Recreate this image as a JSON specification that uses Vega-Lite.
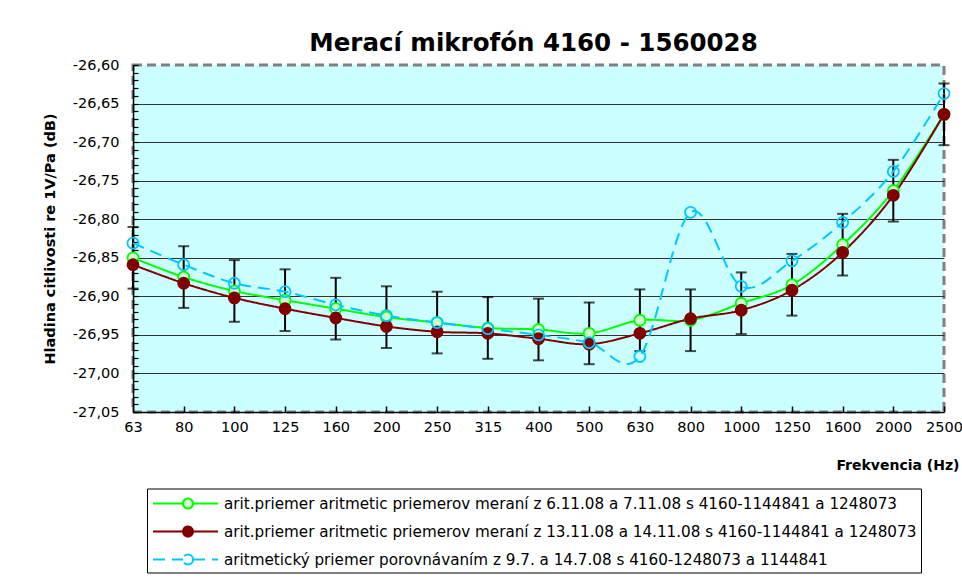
{
  "$schema": "https://vega.github.io/schema/vega-lite/v6.json",
  "width": 811,
  "height": 347,
  "autosize": {"type": "none"},
  "padding": {"left": 133, "top": 65, "right": 18, "bottom": 172},
  "background": "white",
  "config": {
    "font": "DejaVu Sans",
    "view": {"fill": "#CCFFFF", "stroke": "#808080", "strokeWidth": 3, "strokeDash": [9, 5]}
  },
  "title": {
    "text": "Merací mikrofón 4160 - 1560028",
    "fontSize": 24.5,
    "fontWeight": "bold",
    "font": "DejaVu Sans",
    "color": "black",
    "anchor": "middle",
    "frame": "group",
    "offset": -18.5,
    "baseline": "alphabetic",
    "dx": -5
  },
  "datasets": {
    "main": [
      {"f": "63", "s": "A", "v": -26.850}, {"f": "80", "s": "A", "v": -26.875}, {"f": "100", "s": "A", "v": -26.893},
      {"f": "125", "s": "A", "v": -26.905}, {"f": "160", "s": "A", "v": -26.916}, {"f": "200", "s": "A", "v": -26.927},
      {"f": "250", "s": "A", "v": -26.934}, {"f": "315", "s": "A", "v": -26.941}, {"f": "400", "s": "A", "v": -26.943},
      {"f": "500", "s": "A", "v": -26.948}, {"f": "630", "s": "A", "v": -26.931}, {"f": "800", "s": "A", "v": -26.931},
      {"f": "1000", "s": "A", "v": -26.909}, {"f": "1250", "s": "A", "v": -26.885}, {"f": "1600", "s": "A", "v": -26.833},
      {"f": "2000", "s": "A", "v": -26.763}, {"f": "2500", "s": "A", "v": -26.664},
      {"f": "63", "s": "B", "v": -26.859}, {"f": "80", "s": "B", "v": -26.883}, {"f": "100", "s": "B", "v": -26.902},
      {"f": "125", "s": "B", "v": -26.916}, {"f": "160", "s": "B", "v": -26.928}, {"f": "200", "s": "B", "v": -26.939},
      {"f": "250", "s": "B", "v": -26.946}, {"f": "315", "s": "B", "v": -26.948}, {"f": "400", "s": "B", "v": -26.955},
      {"f": "500", "s": "B", "v": -26.962}, {"f": "630", "s": "B", "v": -26.948}, {"f": "800", "s": "B", "v": -26.929},
      {"f": "1000", "s": "B", "v": -26.918}, {"f": "1250", "s": "B", "v": -26.892}, {"f": "1600", "s": "B", "v": -26.843},
      {"f": "2000", "s": "B", "v": -26.769}, {"f": "2500", "s": "B", "v": -26.664},
      {"f": "63", "s": "C", "v": -26.831}, {"f": "80", "s": "C", "v": -26.859}, {"f": "100", "s": "C", "v": -26.883},
      {"f": "125", "s": "C", "v": -26.894}, {"f": "160", "s": "C", "v": -26.911}, {"f": "200", "s": "C", "v": -26.925},
      {"f": "250", "s": "C", "v": -26.934}, {"f": "315", "s": "C", "v": -26.942}, {"f": "400", "s": "C", "v": -26.950},
      {"f": "500", "s": "C", "v": -26.960}, {"f": "630", "s": "C", "v": -26.978}, {"f": "800", "s": "C", "v": -26.791},
      {"f": "1000", "s": "C", "v": -26.887}, {"f": "1250", "s": "C", "v": -26.854}, {"f": "1600", "s": "C", "v": -26.804},
      {"f": "2000", "s": "C", "v": -26.738}, {"f": "2500", "s": "C", "v": -26.637}
    ],
    "err": [
      {"f": "63", "lo": -26.890, "hi": -26.810}, {"f": "80", "lo": -26.915, "hi": -26.835},
      {"f": "100", "lo": -26.933, "hi": -26.853}, {"f": "125", "lo": -26.945, "hi": -26.865},
      {"f": "160", "lo": -26.956, "hi": -26.876}, {"f": "200", "lo": -26.967, "hi": -26.887},
      {"f": "250", "lo": -26.974, "hi": -26.894}, {"f": "315", "lo": -26.981, "hi": -26.901},
      {"f": "400", "lo": -26.983, "hi": -26.903}, {"f": "500", "lo": -26.988, "hi": -26.908},
      {"f": "630", "lo": -26.971, "hi": -26.891}, {"f": "800", "lo": -26.971, "hi": -26.891},
      {"f": "1000", "lo": -26.949, "hi": -26.869}, {"f": "1250", "lo": -26.925, "hi": -26.845},
      {"f": "1600", "lo": -26.873, "hi": -26.793}, {"f": "2000", "lo": -26.803, "hi": -26.723},
      {"f": "2500", "lo": -26.704, "hi": -26.624}
    ]
  },
  "layer": [
    {
      "data": {"name": "err"},
      "mark": {"type": "errorbar", "color": "black", "thickness": 2, "ticks": {"size": 11, "thickness": 2}},
      "encoding": {
        "x": {"field": "f", "type": "ordinal", "title": "Frekvencia (Hz)",
              "scale": {"type": "point", "padding": 0, "domain": ["63","80","100","125","160","200","250","315","400","500","630","800","1000","1250","1600","2000","2500"]}},
        "y": {"field": "lo", "type": "quantitative", "title": "Hladina citlivosti re 1V/Pa (dB)",
              "scale": {"domain": [-27.05, -26.6], "nice": false, "zero": false}},
        "y2": {"field": "hi"}
      }
    },
    {
      "data": {"name": "main"},
      "mark": {"type": "line", "interpolate": "cardinal", "tension": 0, "strokeWidth": 2},
      "encoding": {
        "x": {"field": "f", "type": "ordinal", "title": "Frekvencia (Hz)",
              "scale": {"type": "point", "padding": 0, "domain": ["63","80","100","125","160","200","250","315","400","500","630","800","1000","1250","1600","2000","2500"]},
              "axis": {"labelFontSize": 14.5, "labelColor": "black", "labelPadding": 21, "labelAngle": 0,
                       "labelAlign": "center", "labelFlush": false, "labelBound": false,
                       "tickSize": -6, "tickColor": "black", "tickWidth": 1.5,
                       "domainColor": "black", "domainWidth": 1.5, "grid": false,
                       "titleFontSize": 14, "titleFontWeight": "bold", "titleColor": "black",
                       "titleAlign": "right", "titleBaseline": "middle", "titleX": 826, "titleY": 53}},
        "y": {"field": "v", "type": "quantitative", "title": "Hladina citlivosti re 1V/Pa (dB)",
              "scale": {"domain": [-27.05, -26.6], "nice": false, "zero": false},
              "axis": {
                "values": [-27.05,-27.04,-27.03,-27.02,-27.01,-27,-26.99,-26.98,-26.97,-26.96,-26.95,-26.94,-26.93,-26.92,-26.91,-26.9,-26.89,-26.88,-26.87,-26.86,-26.85,-26.84,-26.83,-26.82,-26.81,-26.8,-26.79,-26.78,-26.77,-26.76,-26.75,-26.74,-26.73,-26.72,-26.71,-26.7,-26.69,-26.68,-26.67,-26.66,-26.65,-26.64,-26.63,-26.62,-26.61,-26.6],
                "tickCount": 200,
                "grid": true, "gridColor": "#333333", "gridWidth": 1.2,
                "gridOpacity": {"condition": {"test": "abs(datum.value*20 - round(datum.value*20)) < 0.001 && datum.value > -27.04 && datum.value < -26.61", "value": 1}, "value": 0},
                "labelExpr": "abs(datum.value*20 - round(datum.value*20)) < 0.001 ? replace(replace(format(datum.value, '.2f'), '.', ','), '\u2212', '-') : ''",
                "labelFontSize": 14.5, "labelColor": "black", "labelPadding": 19, "labelOverlap": false, "labelFlush": false, "labelBound": false,
                "tickSize": -5, "tickColor": "black", "tickWidth": 1.2,
                "domainColor": "black", "domainWidth": 1.5,
                "titleFontSize": 14.5, "titleFontWeight": "bold", "titleColor": "black",
                "titleX": -76, "titleY": 173.5
              }},
        "stroke": {"field": "s", "type": "nominal",
                   "scale": {"domain": ["A", "B", "C"], "range": ["#00FF00", "#800000", "#00C8FF"]},
                   "legend": {"orient": "none", "legendX": 14, "legendY": 423.5, "title": null,
                              "symbolType": "M-0.9,0L2.1,0M3.1,0L5.6,0M3.1,0A0.5,0.5 0 1 1 2.1,0A0.5,0.5 0 1 1 3.1,0",
                              "symbolSize": 400, "symbolStrokeWidth": 2, "labelFontSize": 15.2, "labelLimit": 0,
                              "labelOffset": 51, "rowPadding": 8, "padding": 4, "strokeColor": "black", "fillColor": "white",
                              "labelColor": "black",
                              "labelExpr": "datum.value == 'A' ? 'arit.priemer aritmetic priemerov meraní z 6.11.08 a 7.11.08 s 4160-1144841 a 1248073' : datum.value == 'B' ? 'arit.priemer aritmetic priemerov meraní z 13.11.08 a 14.11.08 s 4160-1144841 a 1248073' : 'aritmetický priemer porovnávaním z 9.7. a 14.7.08 s 4160-1248073 a 1144841'"}},
        "strokeDash": {"field": "s", "type": "nominal",
                   "scale": {"domain": ["A", "B", "C"], "range": [[1, 0], [1, 0], [12, 7]]},
                   "legend": {"orient": "none", "legendX": 14, "legendY": 423.5, "title": null,
                              "symbolType": "M-0.9,0L2.1,0M3.1,0L5.6,0M3.1,0A0.5,0.5 0 1 1 2.1,0A0.5,0.5 0 1 1 3.1,0",
                              "symbolSize": 400, "symbolStrokeWidth": 2, "labelFontSize": 15.2, "labelLimit": 0,
                              "labelOffset": 51, "rowPadding": 8, "padding": 4, "strokeColor": "black", "fillColor": "white",
                              "labelColor": "black",
                              "labelExpr": "datum.value == 'A' ? 'arit.priemer aritmetic priemerov meraní z 6.11.08 a 7.11.08 s 4160-1144841 a 1248073' : datum.value == 'B' ? 'arit.priemer aritmetic priemerov meraní z 13.11.08 a 14.11.08 s 4160-1144841 a 1248073' : 'aritmetický priemer porovnávaním z 9.7. a 14.7.08 s 4160-1248073 a 1144841'"}}
      }
    },
    {
      "data": {"name": "main"},
      "mark": {"type": "point", "shape": "circle", "size": 121, "strokeWidth": 1.8, "opacity": 1},
      "encoding": {
        "x": {"field": "f", "type": "ordinal", "title": "Frekvencia (Hz)",
              "scale": {"type": "point", "padding": 0, "domain": ["63","80","100","125","160","200","250","315","400","500","630","800","1000","1250","1600","2000","2500"]}},
        "y": {"field": "v", "type": "quantitative", "title": "Hladina citlivosti re 1V/Pa (dB)",
              "scale": {"domain": [-27.05, -26.6], "nice": false, "zero": false}},
        "stroke": {"field": "s", "type": "nominal",
                   "scale": {"domain": ["A", "B", "C"], "range": ["#00FF00", "#800000", "#00C8FF"]}},
        "fill": {"field": "s", "type": "nominal",
                 "scale": {"domain": ["A", "B", "C"], "range": ["#CCFFCC", "#800000", "transparent"]},
                 "legend": {"orient": "none", "legendX": 14, "legendY": 423.5, "title": null,
                              "symbolType": "M-0.9,0L2.1,0M3.1,0L5.6,0M3.1,0A0.5,0.5 0 1 1 2.1,0A0.5,0.5 0 1 1 3.1,0",
                              "symbolSize": 400, "symbolStrokeWidth": 2, "labelFontSize": 15.2, "labelLimit": 0,
                              "labelOffset": 51, "rowPadding": 8, "padding": 4, "strokeColor": "black", "fillColor": "white",
                              "labelColor": "black",
                              "labelExpr": "datum.value == 'A' ? 'arit.priemer aritmetic priemerov meraní z 6.11.08 a 7.11.08 s 4160-1144841 a 1248073' : datum.value == 'B' ? 'arit.priemer aritmetic priemerov meraní z 13.11.08 a 14.11.08 s 4160-1144841 a 1248073' : 'aritmetický priemer porovnávaním z 9.7. a 14.7.08 s 4160-1248073 a 1144841'"}}
      }
    }
  ]
}
